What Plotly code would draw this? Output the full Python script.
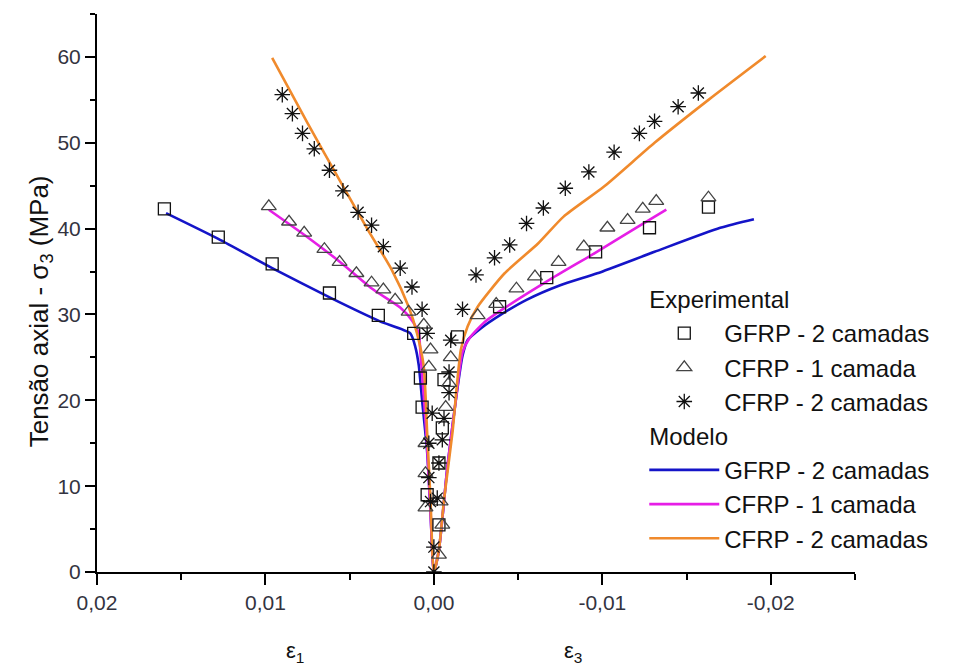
import plotly.graph_objects as go

# ---------------- Experimental data (strain, axial stress in MPa) ----------------
# eps1 = lateral strain (positive side), eps3 = axial strain (negative side)

# GFRP - 2 camadas
gfrp2_exp_eps1 = [0.0160, 0.0128, 0.0096, 0.0062, 0.0033, 0.0012, 0.0008, 0.0007, 0.0004]
gfrp2_exp_sig1 = [42.3, 39.0, 35.9, 32.5, 29.9, 27.8, 22.6, 19.2, 9.0]
gfrp2_exp_eps3 = [-0.0003, -0.0003, -0.0005, -0.0006, -0.0014, -0.0039, -0.0067, -0.0096, -0.0128, -0.0163]
gfrp2_exp_sig3 = [5.5, 12.7, 16.8, 22.4, 27.4, 30.9, 34.3, 37.3, 40.1, 42.5]

# CFRP - 1 camada
cfrp1_exp_eps1 = [0.0098, 0.0086, 0.0077, 0.0065, 0.0056, 0.0046, 0.0037, 0.0030,
                  0.0023, 0.0015, 0.0006, 0.0002, 0.0003, 0.0005, 0.0005, 0.0005]
cfrp1_exp_sig1 = [42.6, 40.8, 39.5, 37.6, 36.1, 34.8, 33.7, 32.9,
                  31.7, 30.3, 28.8, 25.9, 23.9, 15.0, 11.5, 7.5]
cfrp1_exp_eps3 = [-0.0003, -0.0005, -0.0004, -0.0007, -0.0009, -0.0010, -0.0026, -0.0037,
                  -0.0049, -0.0060, -0.0074, -0.0089, -0.0103, -0.0115, -0.0124, -0.0132, -0.0163]
cfrp1_exp_sig3 = [2.0, 5.5, 8.2, 19.2, 22.0, 25.0, 29.9, 31.2,
                  33.0, 34.4, 36.1, 37.9, 40.1, 41.0, 42.3, 43.2, 43.6]

# CFRP - 2 camadas
cfrp2_exp_eps1 = [0.0090, 0.0084, 0.0078, 0.0071, 0.0062, 0.0054, 0.0045, 0.0037, 0.0030,
                  0.0020, 0.0013, 0.0007, 0.0004, 0.0001, 0.0003, 0.0003, 0.0002, 0.0000, 0.0000]
cfrp2_exp_sig1 = [55.6, 53.4, 51.1, 49.3, 46.8, 44.4, 41.9, 40.4, 37.9,
                  35.4, 33.2, 30.6, 27.8, 18.5, 15.0, 11.0, 8.2, 2.9, 0.0]
cfrp2_exp_eps3 = [-0.0002, -0.0003, -0.0005, -0.0006, -0.0009, -0.0009, -0.0010, -0.0017, -0.0025,
                  -0.0036, -0.0045, -0.0055, -0.0065, -0.0078, -0.0092, -0.0107, -0.0122, -0.0131,
                  -0.0145, -0.0157]
cfrp2_exp_sig3 = [8.6, 12.7, 15.4, 17.9, 20.9, 23.3, 27.0, 30.6, 34.6,
                  36.6, 38.1, 40.6, 42.4, 44.7, 46.6, 48.9, 51.1, 52.5,
                  54.2, 55.8]

# ---------------- Model curves ----------------
gfrp2_mod_eps1 = [0.0159, 0.0128, 0.0096, 0.0061, 0.0032, 0.0014, 0.0011, 0.0009, 0.0007, 0.0004, 0.0002, 0.0]
gfrp2_mod_sig1 = [41.8, 38.8, 35.4, 31.9, 29.2, 27.8, 26.2, 24.1, 20.0, 14.0, 7.0, 0.0]
gfrp2_mod_eps3 = [-0.0003, -0.0008, -0.0013, -0.0017, -0.0020, -0.0028, -0.0040, -0.0055,
                  -0.0075, -0.0097, -0.0131, -0.0170, -0.0190]
gfrp2_mod_sig3 = [2.6, 12.2, 20.0, 25.2, 27.0, 28.4, 30.0, 31.7, 33.4, 34.8, 37.3, 40.1, 41.1]

cfrp1_mod_eps1 = [0.0098, 0.0075, 0.0055, 0.0036, 0.0020, 0.0013, 0.0009, 0.0008, 0.0006, 0.0004, 0.0002, 0.0]
cfrp1_mod_sig1 = [42.2, 39.0, 36.0, 32.9, 30.8, 29.3, 27.8, 25.5, 20.5, 14.5, 7.0, 0.0]
cfrp1_mod_eps3 = [-0.0003, -0.0008, -0.0013, -0.0017, -0.0021, -0.0030, -0.0040, -0.0070, -0.0096, -0.0121, -0.0138]
cfrp1_mod_sig3 = [2.6, 12.2, 20.0, 25.6, 27.2, 29.1, 30.5, 34.2, 37.2, 40.2, 42.2]

cfrp2_mod_eps1 = [0.0096, 0.0075, 0.0055, 0.0039, 0.0025, 0.0015, 0.0010, 0.0006, 0.0004, 0.0002, 0.0]
cfrp2_mod_sig1 = [59.9, 52.3, 45.3, 39.8, 35.2, 30.9, 27.8, 23.9, 16.2, 8.4, 0.0]
cfrp2_mod_eps3 = [-0.0003, -0.0006, -0.0011, -0.0016, -0.0020, -0.0026, -0.0042, -0.0062, -0.0077, -0.0101, -0.0131, -0.0163, -0.0197]
cfrp2_mod_sig3 = [2.6, 8.4, 16.2, 25.9, 28.6, 30.9, 34.8, 38.3, 41.4, 44.9, 50.0, 55.0, 60.1]

series_names = ["GFRP - 2 camadas", "CFRP - 1 camada", "CFRP - 2 camadas"]
line_colors = ["#1414C8", "#E61EE6", "#F08A2C"]

x_tickvals = [0.02, 0.01, 0.0, -0.01, -0.02]
x_ticktext = ["0,02", "0,01", "0,00", "-0,01", "-0,02"]
y_tickvals = [0, 10, 20, 30, 40, 50, 60]

FONT = "Arial, Liberation Sans, sans-serif"

fig = go.Figure()

# model curves: lateral branch traced down to the origin, then the axial branch
models = [
    (gfrp2_mod_eps1, gfrp2_mod_sig1, gfrp2_mod_eps3, gfrp2_mod_sig3),
    (cfrp1_mod_eps1, cfrp1_mod_sig1, cfrp1_mod_eps3, cfrp1_mod_sig3),
    (cfrp2_mod_eps1, cfrp2_mod_sig1, cfrp2_mod_eps3, cfrp2_mod_sig3),
]
for i, (e1, s1, e3, s3) in enumerate(models):
    fig.add_trace(go.Scatter(
        x=list(e1) + list(e3), y=list(s1) + list(s3),
        mode="lines", name=series_names[i],
        line=dict(color=line_colors[i], width=2.6, shape="spline", smoothing=0.6),
        legendgroup="modelo", legendgrouptitle=dict(text="Modelo"),
        legendrank=200 + i,
    ))

experiments = [
    (gfrp2_exp_eps1, gfrp2_exp_sig1, gfrp2_exp_eps3, gfrp2_exp_sig3, "square-open", 12, "#111111"),
    (cfrp1_exp_eps1, cfrp1_exp_sig1, cfrp1_exp_eps3, cfrp1_exp_sig3, "triangle-up-open", 13, "#444444"),
    (cfrp2_exp_eps1, cfrp2_exp_sig1, cfrp2_exp_eps3, cfrp2_exp_sig3, "asterisk-open", 13, "#111111"),
]
for i, (e1, s1, e3, s3, sym, size, col) in enumerate(experiments):
    fig.add_trace(go.Scatter(
        x=list(e1) + list(e3), y=list(s1) + list(s3),
        mode="markers", name=series_names[i],
        marker=dict(symbol=sym, size=size, color=col, line=dict(color=col, width=1.3)),
        legendgroup="experimental", legendgrouptitle=dict(text="Experimental"),
        legendrank=100 + i,
    ))

fig.update_layout(
    width=960, height=668,
    margin=dict(l=97, r=105, t=14, b=96),
    paper_bgcolor="white", plot_bgcolor="white",
    font=dict(family=FONT, color="#111111"),
    showlegend=True,
    legend=dict(
        x=0.722, y=0.529, xanchor="left", yanchor="top",
        bgcolor="rgba(0,0,0,0)", borderwidth=0,
        font=dict(size=24, family=FONT, color="#111111"),
        grouptitlefont=dict(size=24, family=FONT, color="#111111"),
        itemwidth=70, tracegroupgap=0,
    ),
    xaxis=dict(
        range=[0.02, -0.025], showgrid=False, zeroline=False,
        showline=True, linecolor="black", linewidth=2,
        ticks="outside", ticklen=11, tickwidth=2, tickcolor="black",
        tickvals=x_tickvals, ticktext=x_ticktext,
        tickfont=dict(size=21, family=FONT, color="#333340"),
        minor=dict(dtick=0.005, tick0=0, ticks="outside", ticklen=6, tickwidth=2, tickcolor="black"),
    ),
    yaxis=dict(
        range=[0, 65], showgrid=False, zeroline=False,
        showline=True, linecolor="black", linewidth=2,
        ticks="outside", ticklen=10, tickwidth=2, tickcolor="black",
        tickvals=y_tickvals,
        tickfont=dict(size=21, family=FONT, color="#333340"),
        minor=dict(dtick=5, tick0=0, ticks="outside", ticklen=5, tickwidth=2, tickcolor="black"),
    ),
    annotations=[
        dict(text="Tensão axial - σ<sub>3</sub> (MPa)", xref="paper", yref="paper",
             x=-0.099, y=0.468, textangle=-90, showarrow=False,
             font=dict(size=26, family=FONT, color="#111111")),
        dict(text="ε<sub>1</sub>", xref="paper", yref="paper", x=0.247, y=0,
             yshift=-96, showarrow=False, font=dict(size=22, family=FONT, color="#111111")),
        dict(text="ε<sub>3</sub>", xref="paper", yref="paper", x=0.628, y=0,
             yshift=-96, showarrow=False, font=dict(size=22, family=FONT, color="#111111")),
    ],
)

fig.write_html("out.html")
